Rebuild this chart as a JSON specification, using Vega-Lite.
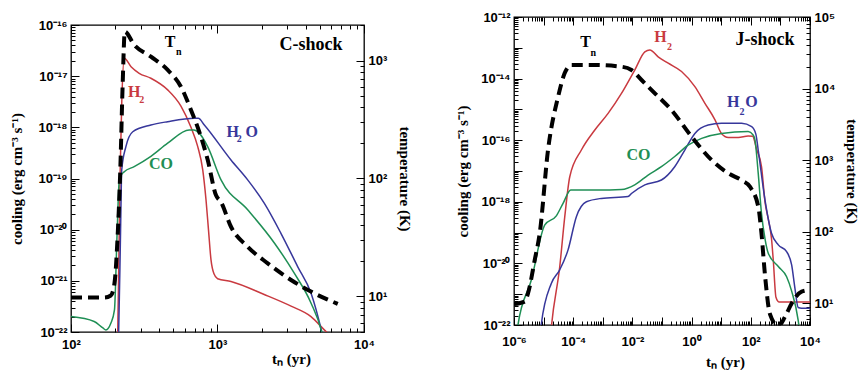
{
  "$schema": "https://vega.github.io/schema/vega-lite/v6.json",
  "background": "white",
  "padding": {"left": 8, "top": 10, "right": 0, "bottom": 0},
  "spacing": 42,
  "config": {
    "view": {"stroke": "black", "strokeWidth": 1.3},
    "axis": {
      "domain": false, "grid": false,
      "labelFont": "Liberation Sans", "labelFontWeight": "bold", "labelFontSize": 13, "labelColor": "black",
      "titleFont": "Liberation Serif", "titleFontSize": 15, "titleFontWeight": "bold", "titleColor": "black",
      "tickColor": "black", "tickWidth": 1, "labelPadding": 12, "labelFlush": false, "labelOverlap": false
    },
    "text": {"font": "Liberation Serif", "fontWeight": "bold"}
  },
  "datasets": {
    "cLines": [
      {"s": "H2", "t": 207, "v": 6e-23}, {"s": "H2", "t": 208.5, "v": 1e-22}, {"s": "H2", "t": 216, "v": 1e-19}, {"s": "H2", "t": 222, "v": 3e-18}, {"s": "H2", "t": 231, "v": 2.24e-17}, {"s": "H2", "t": 257, "v": 1.53e-17}, {"s": "H2", "t": 292, "v": 1.14e-17}, {"s": "H2", "t": 351, "v": 9.1e-18}, {"s": "H2", "t": 457, "v": 5.4e-18}, {"s": "H2", "t": 563, "v": 2.6e-18}, {"s": "H2", "t": 659, "v": 1.0e-18}, {"s": "H2", "t": 733, "v": 4.2e-19}, {"s": "H2", "t": 793, "v": 1.48e-19}, {"s": "H2", "t": 835, "v": 3.8e-20}, {"s": "H2", "t": 868, "v": 9.9e-21}, {"s": "H2", "t": 903, "v": 2.57e-21}, {"s": "H2", "t": 946, "v": 1.37e-21}, {"s": "H2", "t": 1002, "v": 1.1e-21}, {"s": "H2", "t": 1236, "v": 9.7e-22}, {"s": "H2", "t": 2084, "v": 5.4e-22}, {"s": "H2", "t": 3177, "v": 3.2e-22}, {"s": "H2", "t": 4346, "v": 2.0e-22}, {"s": "H2", "t": 5360, "v": 1.1e-22}, {"s": "H2", "t": 6000, "v": 8e-23},
      {"s": "H2O", "t": 210, "v": 6e-23}, {"s": "H2O", "t": 211.5, "v": 1e-22}, {"s": "H2O", "t": 218, "v": 1e-20}, {"s": "H2O", "t": 222, "v": 1.48e-19}, {"s": "H2O", "t": 237, "v": 4.2e-19}, {"s": "H2O", "t": 264, "v": 8.2e-19}, {"s": "H2O", "t": 351, "v": 1.11e-18}, {"s": "H2O", "t": 457, "v": 1.29e-18}, {"s": "H2O", "t": 695, "v": 1.5e-18}, {"s": "H2O", "t": 740, "v": 1.5e-18}, {"s": "H2O", "t": 813, "v": 1.11e-18}, {"s": "H2O", "t": 1236, "v": 2.3e-19}, {"s": "H2O", "t": 1607, "v": 9.4e-20}, {"s": "H2O", "t": 2084, "v": 3.3e-20}, {"s": "H2O", "t": 2710, "v": 8.5e-21}, {"s": "H2O", "t": 3524, "v": 1.9e-21}, {"s": "H2O", "t": 4346, "v": 5.8e-22}, {"s": "H2O", "t": 5150, "v": 1e-22}, {"s": "H2O", "t": 5300, "v": 7e-23},
      {"s": "CO", "t": 100, "v": 2.0e-22}, {"s": "CO", "t": 144, "v": 1.6e-22}, {"s": "CO", "t": 165, "v": 1.2e-22}, {"s": "CO", "t": 173, "v": 1.1e-22}, {"s": "CO", "t": 187, "v": 1.48e-22}, {"s": "CO", "t": 198, "v": 2.7e-22}, {"s": "CO", "t": 206, "v": 7.3e-21}, {"s": "CO", "t": 214, "v": 1.0e-19}, {"s": "CO", "t": 231, "v": 1.36e-19}, {"s": "CO", "t": 270, "v": 1.7e-19}, {"s": "CO", "t": 351, "v": 2.7e-19}, {"s": "CO", "t": 457, "v": 4.9e-19}, {"s": "CO", "t": 641, "v": 8.9e-19}, {"s": "CO", "t": 690, "v": 8.9e-19}, {"s": "CO", "t": 750, "v": 7.7e-19}, {"s": "CO", "t": 857, "v": 4.2e-19}, {"s": "CO", "t": 1057, "v": 9.4e-20}, {"s": "CO", "t": 1607, "v": 2.45e-20}, {"s": "CO", "t": 2444, "v": 5.5e-21}, {"s": "CO", "t": 3342, "v": 1.41e-21}, {"s": "CO", "t": 4346, "v": 3.7e-22}, {"s": "CO", "t": 5150, "v": 1e-22}, {"s": "CO", "t": 5300, "v": 7e-23}
    ],
    "cTn": [
      {"t": 100, "T": 9.8}, {"t": 169, "T": 9.8}, {"t": 187, "T": 10.2}, {"t": 198, "T": 12.9}, {"t": 208, "T": 32}, {"t": 217, "T": 118}, {"t": 225, "T": 600}, {"t": 233, "T": 1754}, {"t": 270, "T": 1355}, {"t": 351, "T": 1077}, {"t": 457, "T": 832}, {"t": 563, "T": 600}, {"t": 659, "T": 381}, {"t": 750, "T": 250}, {"t": 857, "T": 144}, {"t": 977, "T": 72}, {"t": 1057, "T": 63}, {"t": 1236, "T": 39}, {"t": 1607, "T": 26.4}, {"t": 2203, "T": 19.1}, {"t": 3177, "T": 13.8}, {"t": 4346, "T": 11.0}, {"t": 6622, "T": 8.65}
    ],
    "cLab": [
      {"s": "Tn", "txt": "T", "t": 475, "v": 4.7e-17},
      {"s": "H2", "txt": "H", "t": 270, "v": 4.8e-18},
      {"s": "H2O", "txt": "H", "t": 1271, "v": 8.2e-19},
      {"s": "H2O", "txt": "O", "t": 1710, "v": 8.2e-19},
      {"s": "CO", "txt": "CO", "t": 411, "v": 1.93e-19}
    ],
    "cSub": [
      {"s": "Tn", "txt": "n", "t": 545, "v": 3.0e-17},
      {"s": "H2", "txt": "2", "t": 304, "v": 3.35e-18},
      {"s": "H2O", "txt": "2", "t": 1410, "v": 5.9e-19}
    ],
    "cTitle": [{"txt": "C-shock", "t": 4346, "v": 4.1e-17}],
    "jLines": [
      {"s": "H2", "t": 1.74e-5, "v": 5e-23}, {"s": "H2", "t": 1.86e-5, "v": 1e-22}, {"s": "H2", "t": 3.51e-5, "v": 7.8e-21}, {"s": "H2", "t": 5.19e-5, "v": 3.3e-19}, {"s": "H2", "t": 7.66e-5, "v": 6.5e-18}, {"s": "H2", "t": 1.89e-4, "v": 4.8e-17}, {"s": "H2", "t": 5.37e-4, "v": 2.14e-16}, {"s": "H2", "t": 1.51e-3, "v": 7.4e-16}, {"s": "H2", "t": 4.27e-3, "v": 3.3e-15}, {"s": "H2", "t": 1.2e-2, "v": 1.9e-14}, {"s": "H2", "t": 2.63e-2, "v": 7.4e-14}, {"s": "H2", "t": 3.89e-2, "v": 8.5e-14}, {"s": "H2", "t": 7.41e-2, "v": 5.1e-14}, {"s": "H2", "t": 0.162, "v": 3.16e-14}, {"s": "H2", "t": 0.457, "v": 1.7e-14}, {"s": "H2", "t": 1.29, "v": 5.5e-15}, {"s": "H2", "t": 2.82, "v": 1.58e-15}, {"s": "H2", "t": 6.17, "v": 4.6e-16}, {"s": "H2", "t": 10.2, "v": 1.66e-16}, {"s": "H2", "t": 17.4, "v": 1.23e-16}, {"s": "H2", "t": 38, "v": 1.23e-16}, {"s": "H2", "t": 81.3, "v": 1.38e-16}, {"s": "H2", "t": 115, "v": 1.35e-16}, {"s": "H2", "t": 158, "v": 5e-17}, {"s": "H2", "t": 230, "v": 1.38e-17}, {"s": "H2", "t": 302, "v": 1.0e-18}, {"s": "H2", "t": 398, "v": 2.5e-19}, {"s": "H2", "t": 501, "v": 6.3e-20}, {"s": "H2", "t": 575, "v": 1.26e-20}, {"s": "H2", "t": 708, "v": 7.9e-22}, {"s": "H2", "t": 890, "v": 5.6e-22}, {"s": "H2", "t": 10000, "v": 5.6e-22},
      {"s": "H2O", "t": 7.6e-6, "v": 4e-23}, {"s": "H2O", "t": 8.3e-6, "v": 1e-22}, {"s": "H2O", "t": 1.82e-5, "v": 2.24e-21}, {"s": "H2O", "t": 3.51e-5, "v": 6.2e-21}, {"s": "H2O", "t": 6.7e-5, "v": 2.75e-20}, {"s": "H2O", "t": 1.28e-4, "v": 3.3e-19}, {"s": "H2O", "t": 2.79e-4, "v": 1e-18}, {"s": "H2O", "t": 8.95e-4, "v": 1.29e-18}, {"s": "H2O", "t": 7.16e-3, "v": 1.48e-18}, {"s": "H2O", "t": 9.3e-3, "v": 1.86e-18}, {"s": "H2O", "t": 2.63e-2, "v": 3.55e-18}, {"s": "H2O", "t": 9.55e-2, "v": 5.1e-18}, {"s": "H2O", "t": 0.269, "v": 1.38e-17}, {"s": "H2O", "t": 0.589, "v": 4.8e-17}, {"s": "H2O", "t": 1.29, "v": 1.66e-16}, {"s": "H2O", "t": 3.63, "v": 3.1e-16}, {"s": "H2O", "t": 10.2, "v": 3.55e-16}, {"s": "H2O", "t": 49, "v": 3.55e-16}, {"s": "H2O", "t": 107, "v": 2.75e-16}, {"s": "H2O", "t": 148, "v": 1.58e-16}, {"s": "H2O", "t": 178, "v": 4.8e-17}, {"s": "H2O", "t": 301, "v": 1.15e-18}, {"s": "H2O", "t": 501, "v": 9.5e-20}, {"s": "H2O", "t": 851, "v": 4e-20}, {"s": "H2O", "t": 1622, "v": 2.4e-20}, {"s": "H2O", "t": 2399, "v": 8.9e-21}, {"s": "H2O", "t": 3090, "v": 1.58e-21}, {"s": "H2O", "t": 3981, "v": 3.7e-22}, {"s": "H2O", "t": 5200, "v": 3.5e-22}, {"s": "H2O", "t": 10000, "v": 3.5e-22},
      {"s": "CO", "t": 1.26e-6, "v": 6e-23}, {"s": "CO", "t": 1.36e-6, "v": 1e-22}, {"s": "CO", "t": 3.85e-6, "v": 2.9e-21}, {"s": "CO", "t": 1.1e-5, "v": 1.78e-19}, {"s": "CO", "t": 2.69e-5, "v": 3.5e-19}, {"s": "CO", "t": 4.54e-5, "v": 8.9e-19}, {"s": "CO", "t": 8.26e-5, "v": 2.4e-18}, {"s": "CO", "t": 6.9e-4, "v": 2.4e-18}, {"s": "CO", "t": 4.27e-3, "v": 2.5e-18}, {"s": "CO", "t": 1.2e-2, "v": 3.55e-18}, {"s": "CO", "t": 3.39e-2, "v": 7.4e-18}, {"s": "CO", "t": 9.55e-2, "v": 1.38e-17}, {"s": "CO", "t": 0.269, "v": 2.95e-17}, {"s": "CO", "t": 0.759, "v": 6.9e-17}, {"s": "CO", "t": 2.19, "v": 1.15e-16}, {"s": "CO", "t": 10.2, "v": 1.66e-16}, {"s": "CO", "t": 81.3, "v": 1.9e-16}, {"s": "CO", "t": 120, "v": 1.48e-16}, {"s": "CO", "t": 138, "v": 1.02e-16}, {"s": "CO", "t": 178, "v": 8.5e-18}, {"s": "CO", "t": 229, "v": 4.3e-19}, {"s": "CO", "t": 302, "v": 6.3e-20}, {"s": "CO", "t": 389, "v": 2.14e-20}, {"s": "CO", "t": 851, "v": 7.9e-21}, {"s": "CO", "t": 1622, "v": 3.7e-21}, {"s": "CO", "t": 2399, "v": 1.26e-21}, {"s": "CO", "t": 3981, "v": 1.45e-22}, {"s": "CO", "t": 4467, "v": 6.3e-23}
    ],
    "jTn": [
      {"t": 1e-6, "T": 9.8}, {"t": 2.29e-6, "T": 10.6}, {"t": 2.97e-6, "T": 13.8}, {"t": 5.01e-6, "T": 40.4}, {"t": 7.41e-6, "T": 96}, {"t": 1.41e-5, "T": 1387}, {"t": 3.09e-5, "T": 7709}, {"t": 5.13e-5, "T": 16330}, {"t": 8.71e-5, "T": 21380}, {"t": 5.37e-4, "T": 21380}, {"t": 4.27e-3, "T": 20230}, {"t": 9.33e-3, "T": 18200}, {"t": 2.04e-2, "T": 13180}, {"t": 5.75e-2, "T": 8590}, {"t": 0.209, "T": 5012}, {"t": 1, "T": 2133}, {"t": 4.72, "T": 1007}, {"t": 17.4, "T": 656}, {"t": 49, "T": 525}, {"t": 93.3, "T": 427}, {"t": 179, "T": 224}, {"t": 229, "T": 96}, {"t": 301, "T": 25}, {"t": 444, "T": 7.1}, {"t": 851, "T": 4.8}, {"t": 1429, "T": 6.5}, {"t": 2388, "T": 10}, {"t": 5200, "T": 14.6}, {"t": 10000, "T": 15.4}
    ],
    "jLab": [
      {"s": "Tn", "txt": "T", "t": 2.6e-4, "v": 1.58e-13},
      {"s": "H2", "txt": "H", "t": 8.8e-2, "v": 2.2e-13},
      {"s": "H2O", "txt": "H", "t": 25.7, "v": 1.78e-15},
      {"s": "H2O", "txt": "O", "t": 105, "v": 1.78e-15},
      {"s": "CO", "txt": "CO", "t": 1.6e-2, "v": 3.2e-17}
    ],
    "jSub": [
      {"s": "Tn", "txt": "n", "t": 4.8e-4, "v": 6.6e-14},
      {"s": "H2", "txt": "2", "t": 0.18, "v": 1.1e-13},
      {"s": "H2O", "txt": "2", "t": 50, "v": 8.5e-16}
    ],
    "jTitle": [{"txt": "J-shock", "t": 300, "v": 1.78e-13}],
    "empty": []
  },
  "hconcat": [
    {
      "vconcat": [
        {
          "width": 1, "height": 1,
          "view": {"stroke": null},
          "data": {"name": "empty"},
          "mark": {"type": "point"},
          "encoding": {}
        },
        {
          "width": 293, "height": 307,
          "layer": [
            {
              "layer": [
                {
                  "data": {"name": "cLines"},
                  "mark": {"type": "line", "strokeWidth": 1.5, "clip": true, "interpolate": "monotone"},
                  "encoding": {
                    "x": {"field": "t", "type": "quantitative", "scale": {"type": "log", "domain": [100, 10000]},
                      "axis": {"title": "tₙ  (yr)", "titleX": 220, "titleY": 26, "titleAlign": "center", "titleBaseline": "middle", "labelPadding": 14,
                        "values": [100,200,300,400,500,600,700,800,900,1000,2000,3000,4000,5000,6000,7000,8000,9000,10000],
                        "labelExpr": "abs(log(datum.value)/LN10 - round(log(datum.value)/LN10)) < 0.001 ? '10' + (datum.value < 1 ? '⁻' : '') + ['','¹','²'][floor(abs(round(log(datum.value)/LN10))/10)] + ['⁰','¹','²','³','⁴','⁵','⁶','⁷','⁸','⁹'][abs(round(log(datum.value)/LN10)) % 10] : ''",
                        "tickSize": {"condition": {"test": "abs(log(datum.value)/LN10 - round(log(datum.value)/LN10)) < 0.001", "value": -8}, "value": -4}}},
                    "y": {"field": "v", "type": "quantitative", "scale": {"type": "log", "domain": [1e-22, 1e-16]},
                      "axis": {"title": "cooling  (erg cm⁻³ s⁻¹)", "titlePadding": 14,
                        "values": [1e-22,2e-22,3e-22,4e-22,5e-22,6e-22,7e-22,8e-22,9e-22,1e-21,2e-21,3e-21,4e-21,5e-21,6e-21,7e-21,8e-21,9e-21,1e-20,2e-20,3e-20,4e-20,5e-20,6e-20,7e-20,8e-20,9e-20,1e-19,2e-19,3e-19,4e-19,5e-19,6e-19,7e-19,8e-19,9e-19,1e-18,2e-18,3e-18,4e-18,5e-18,6e-18,7e-18,8e-18,9e-18,1e-17,2e-17,3e-17,4e-17,5e-17,6e-17,7e-17,8e-17,9e-17,1e-16],
                        "labelExpr": "abs(log(datum.value)/LN10 - round(log(datum.value)/LN10)) < 0.001 ? '10' + (datum.value < 1 ? '⁻' : '') + ['','¹','²'][floor(abs(round(log(datum.value)/LN10))/10)] + ['⁰','¹','²','³','⁴','⁵','⁶','⁷','⁸','⁹'][abs(round(log(datum.value)/LN10)) % 10] : ''",
                        "tickSize": {"condition": {"test": "abs(log(datum.value)/LN10 - round(log(datum.value)/LN10)) < 0.001", "value": -8}, "value": -4}}},
                    "color": {"field": "s", "type": "nominal", "legend": null,
                      "scale": {"domain": ["H2", "H2O", "CO", "Tn"], "range": ["#c93a40", "#37379b", "#1f8f55", "#000000"]}}
                  }
                },
                {
                  "data": {"name": "cLab"},
                  "mark": {"type": "text", "fontSize": 16, "align": "center", "baseline": "middle"},
                  "encoding": {
                    "x": {"field": "t", "type": "quantitative", "scale": {"type": "log", "domain": [100, 10000]}},
                    "y": {"field": "v", "type": "quantitative", "scale": {"type": "log", "domain": [1e-22, 1e-16]}},
                    "text": {"field": "txt"},
                    "color": {"field": "s", "type": "nominal", "legend": null}
                  }
                },
                {
                  "data": {"name": "cSub"},
                  "mark": {"type": "text", "fontSize": 10, "align": "center", "baseline": "middle"},
                  "encoding": {
                    "x": {"field": "t", "type": "quantitative", "scale": {"type": "log", "domain": [100, 10000]}},
                    "y": {"field": "v", "type": "quantitative", "scale": {"type": "log", "domain": [1e-22, 1e-16]}},
                    "text": {"field": "txt"},
                    "color": {"field": "s", "type": "nominal", "legend": null}
                  }
                },
                {
                  "data": {"name": "cTitle"},
                  "mark": {"type": "text", "fontSize": 18, "align": "center", "baseline": "middle", "color": "black"},
                  "encoding": {
                    "x": {"field": "t", "type": "quantitative", "scale": {"type": "log", "domain": [100, 10000]}},
                    "y": {"field": "v", "type": "quantitative", "scale": {"type": "log", "domain": [1e-22, 1e-16]}},
                    "text": {"field": "txt"}
                  }
                }
              ]
            },
            {
              "data": {"name": "cTn"},
              "mark": {"type": "line", "strokeWidth": 4, "strokeDash": [11, 6], "color": "black", "clip": true, "interpolate": "monotone"},
              "encoding": {
                "x": {"field": "t", "type": "quantitative", "scale": {"type": "log", "domain": [100, 10000]},
                  "axis": {"orient": "top", "labels": false, "title": null,
                    "values": [100,200,300,400,500,600,700,800,900,1000,2000,3000,4000,5000,6000,7000,8000,9000,10000],
                    "tickSize": {"condition": {"test": "abs(log(datum.value)/LN10 - round(log(datum.value)/LN10)) < 0.001", "value": -8}, "value": -4}}},
                "y": {"field": "T", "type": "quantitative", "scale": {"type": "log", "domain": [5, 2000]},
                  "axis": {"orient": "right", "title": "temperature  (K)", "titlePadding": 10,
                    "values": [5,6,7,8,9,10,20,30,40,50,60,70,80,90,100,200,300,400,500,600,700,800,900,1000,2000],
                    "labelExpr": "abs(log(datum.value)/LN10 - round(log(datum.value)/LN10)) < 0.001 ? '10' + (datum.value < 1 ? '⁻' : '') + ['','¹','²'][floor(abs(round(log(datum.value)/LN10))/10)] + ['⁰','¹','²','³','⁴','⁵','⁶','⁷','⁸','⁹'][abs(round(log(datum.value)/LN10)) % 10] : ''",
                    "tickSize": {"condition": {"test": "abs(log(datum.value)/LN10 - round(log(datum.value)/LN10)) < 0.001", "value": -8}, "value": -4}}}
              }
            }
          ],
          "resolve": {"scale": {"y": "independent"}, "axis": {"x": "independent", "y": "independent"}}
        }
      ],
      "spacing": 7,
      "bounds": "flush"
    },
    {
      "width": 296, "height": 308,
      "layer": [
        {
          "layer": [
            {
              "data": {"name": "jLines"},
              "mark": {"type": "line", "strokeWidth": 1.5, "clip": true, "interpolate": "monotone"},
              "encoding": {
                "x": {"field": "t", "type": "quantitative", "scale": {"type": "log", "domain": [1e-6, 10000]},
                  "axis": {"title": "tₙ  (yr)", "titleX": 211, "titleY": 36, "titleAlign": "center", "titleBaseline": "middle", "labelPadding": 18,
                    "values": [1e-6,2e-6,3e-6,4e-6,5e-6,6e-6,7e-6,8e-6,9e-6,1e-5,2e-5,3e-5,4e-5,5e-5,6e-5,7e-5,8e-5,9e-5,1e-4,2e-4,3e-4,4e-4,5e-4,6e-4,7e-4,8e-4,9e-4,1e-3,2e-3,3e-3,4e-3,5e-3,6e-3,7e-3,8e-3,9e-3,0.01,0.02,0.03,0.04,0.05,0.06,0.07,0.08,0.09,0.1,0.2,0.3,0.4,0.5,0.6,0.7,0.8,0.9,1,2,3,4,5,6,7,8,9,10,20,30,40,50,60,70,80,90,100,200,300,400,500,600,700,800,900,1000,2000,3000,4000,5000,6000,7000,8000,9000,10000],
                    "labelExpr": "abs(log(datum.value)/LN10 - round(log(datum.value)/LN10)) < 0.001 && abs(round(log(datum.value)/LN10)) % 2 == 0 ? '10' + (datum.value < 1 ? '⁻' : '') + ['','¹','²'][floor(abs(round(log(datum.value)/LN10))/10)] + ['⁰','¹','²','³','⁴','⁵','⁶','⁷','⁸','⁹'][abs(round(log(datum.value)/LN10)) % 10] : ''",
                    "tickSize": {"condition": {"test": "abs(log(datum.value)/LN10 - round(log(datum.value)/LN10)) < 0.001", "value": -8}, "value": -4}}},
                "y": {"field": "v", "type": "quantitative", "scale": {"type": "log", "domain": [1e-22, 1e-12]},
                  "axis": {"title": "cooling  (erg cm⁻³ s⁻¹)", "titlePadding": 10,
                    "values": [1e-22,2e-22,3e-22,4e-22,5e-22,6e-22,7e-22,8e-22,9e-22,1e-21,2e-21,3e-21,4e-21,5e-21,6e-21,7e-21,8e-21,9e-21,1e-20,2e-20,3e-20,4e-20,5e-20,6e-20,7e-20,8e-20,9e-20,1e-19,2e-19,3e-19,4e-19,5e-19,6e-19,7e-19,8e-19,9e-19,1e-18,2e-18,3e-18,4e-18,5e-18,6e-18,7e-18,8e-18,9e-18,1e-17,2e-17,3e-17,4e-17,5e-17,6e-17,7e-17,8e-17,9e-17,1e-16,2e-16,3e-16,4e-16,5e-16,6e-16,7e-16,8e-16,9e-16,1e-15,2e-15,3e-15,4e-15,5e-15,6e-15,7e-15,8e-15,9e-15,1e-14,2e-14,3e-14,4e-14,5e-14,6e-14,7e-14,8e-14,9e-14,1e-13,2e-13,3e-13,4e-13,5e-13,6e-13,7e-13,8e-13,9e-13,1e-12],
                    "labelExpr": "abs(log(datum.value)/LN10 - round(log(datum.value)/LN10)) < 0.001 && abs(round(log(datum.value)/LN10)) % 2 == 0 ? '10' + (datum.value < 1 ? '⁻' : '') + ['','¹','²'][floor(abs(round(log(datum.value)/LN10))/10)] + ['⁰','¹','²','³','⁴','⁵','⁶','⁷','⁸','⁹'][abs(round(log(datum.value)/LN10)) % 10] : ''",
                    "tickSize": {"condition": {"test": "abs(log(datum.value)/LN10 - round(log(datum.value)/LN10)) < 0.001", "value": -8}, "value": -4}}},
                "color": {"field": "s", "type": "nominal", "legend": null,
                  "scale": {"domain": ["H2", "H2O", "CO", "Tn"], "range": ["#c93a40", "#37379b", "#1f8f55", "#000000"]}}
              }
            },
            {
              "data": {"name": "jLab"},
              "mark": {"type": "text", "fontSize": 16, "align": "center", "baseline": "middle"},
              "encoding": {
                "x": {"field": "t", "type": "quantitative", "scale": {"type": "log", "domain": [1e-6, 10000]}},
                "y": {"field": "v", "type": "quantitative", "scale": {"type": "log", "domain": [1e-22, 1e-12]}},
                "text": {"field": "txt"},
                "color": {"field": "s", "type": "nominal", "legend": null}
              }
            },
            {
              "data": {"name": "jSub"},
              "mark": {"type": "text", "fontSize": 10, "align": "center", "baseline": "middle"},
              "encoding": {
                "x": {"field": "t", "type": "quantitative", "scale": {"type": "log", "domain": [1e-6, 10000]}},
                "y": {"field": "v", "type": "quantitative", "scale": {"type": "log", "domain": [1e-22, 1e-12]}},
                "text": {"field": "txt"},
                "color": {"field": "s", "type": "nominal", "legend": null}
              }
            },
            {
              "data": {"name": "jTitle"},
              "mark": {"type": "text", "fontSize": 18, "align": "center", "baseline": "middle", "color": "black"},
              "encoding": {
                "x": {"field": "t", "type": "quantitative", "scale": {"type": "log", "domain": [1e-6, 10000]}},
                "y": {"field": "v", "type": "quantitative", "scale": {"type": "log", "domain": [1e-22, 1e-12]}},
                "text": {"field": "txt"}
              }
            }
          ]
        },
        {
          "data": {"name": "jTn"},
          "mark": {"type": "line", "strokeWidth": 4, "strokeDash": [11, 6], "color": "black", "clip": true, "interpolate": "monotone"},
          "encoding": {
            "x": {"field": "t", "type": "quantitative", "scale": {"type": "log", "domain": [1e-6, 10000]},
              "axis": {"orient": "top", "labels": false, "title": null,
                "values": [1e-6,2e-6,3e-6,4e-6,5e-6,6e-6,7e-6,8e-6,9e-6,1e-5,2e-5,3e-5,4e-5,5e-5,6e-5,7e-5,8e-5,9e-5,1e-4,2e-4,3e-4,4e-4,5e-4,6e-4,7e-4,8e-4,9e-4,1e-3,2e-3,3e-3,4e-3,5e-3,6e-3,7e-3,8e-3,9e-3,0.01,0.02,0.03,0.04,0.05,0.06,0.07,0.08,0.09,0.1,0.2,0.3,0.4,0.5,0.6,0.7,0.8,0.9,1,2,3,4,5,6,7,8,9,10,20,30,40,50,60,70,80,90,100,200,300,400,500,600,700,800,900,1000,2000,3000,4000,5000,6000,7000,8000,9000,10000],
                "tickSize": {"condition": {"test": "abs(log(datum.value)/LN10 - round(log(datum.value)/LN10)) < 0.001", "value": -8}, "value": -4}}},
            "y": {"field": "T", "type": "quantitative", "scale": {"type": "log", "domain": [5, 100000]},
              "axis": {"orient": "right", "title": "temperature  (K)", "titlePadding": 9,
                "values": [5,6,7,8,9,10,20,30,40,50,60,70,80,90,100,200,300,400,500,600,700,800,900,1000,2000,3000,4000,5000,6000,7000,8000,9000,10000,20000,30000,40000,50000,60000,70000,80000,90000,100000],
                "labelExpr": "abs(log(datum.value)/LN10 - round(log(datum.value)/LN10)) < 0.001 ? '10' + (datum.value < 1 ? '⁻' : '') + ['','¹','²'][floor(abs(round(log(datum.value)/LN10))/10)] + ['⁰','¹','²','³','⁴','⁵','⁶','⁷','⁸','⁹'][abs(round(log(datum.value)/LN10)) % 10] : ''",
                "tickSize": {"condition": {"test": "abs(log(datum.value)/LN10 - round(log(datum.value)/LN10)) < 0.001", "value": -8}, "value": -4}}}
          }
        }
      ],
      "resolve": {"scale": {"y": "independent"}, "axis": {"x": "independent", "y": "independent"}}
    }
  ]
}
